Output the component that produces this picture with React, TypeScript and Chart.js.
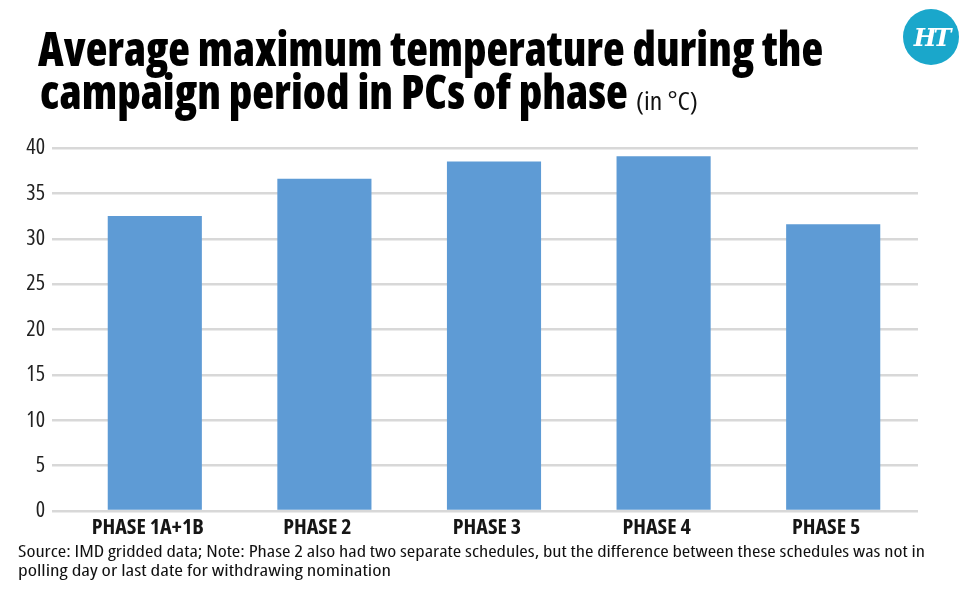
import React, { useEffect, useRef } from "react";
import { Chart, registerables } from "chart.js";

Chart.register(...registerables);

const categories = ["PHASE 1A+1B", "PHASE 2", "PHASE 3", "PHASE 4", "PHASE 5"];
const avgMaxTemp = [32.5, 36.6, 38.5, 39.1, 31.6];
const yTicks = [0, 5, 10, 15, 20, 25, 30, 35, 40];

const titleLine1 = "Average maximum temperature during the";
const titleLine2 = "campaign period in PCs of phase";
const titleUnit = "(in \u00B0C)";
const sourceLine1 =
  "Source: IMD gridded data; Note: Phase 2 also had two separate schedules, but the difference between these schedules was not in";
const sourceLine2 = "polling day or last date for withdrawing nomination";

const SANS = '"Open Sans", "Noto Sans", sans-serif';
const TICK_FONT = '"Open Sans", Roboto, sans-serif';

type TextPiece = {
  text: string;
  left: number;
  top: number;
  width: number;
  size: number;
  weight: number | string;
  color: string;
};

const pieces: TextPiece[] = [
  { text: titleLine1, left: 38, top: 25, width: 785, size: 47, weight: 800, color: "#000" },
  { text: titleLine2, left: 40, top: 68, width: 588, size: 47, weight: 800, color: "#000" },
  { text: titleUnit, left: 636, top: 87, width: 62, size: 26, weight: 400, color: "#111" },
  { text: sourceLine1, left: 18, top: 542, width: 907, size: 17, weight: 400, color: "#111" },
  { text: sourceLine2, left: 18, top: 561, width: 373, size: 17, weight: 400, color: "#111" },
];

export default function App() {
  const canvasRef = useRef<HTMLCanvasElement | null>(null);
  const textRefs = useRef<(HTMLSpanElement | null)[]>([]);

  useEffect(() => {
    document.body.style.margin = "0";
    const fit = () => {
      textRefs.current.forEach((el, i) => {
        if (!el) return;
        el.style.transform = "none";
        const w = el.offsetWidth;
        if (w > 0) el.style.transform = `scaleX(${pieces[i].width / w})`;
      });
    };
    fit();
    (document as any).fonts?.ready?.then(fit);

    const ctx = canvasRef.current!.getContext("2d")!;
    const chart = new Chart(ctx, {
      type: "bar",
      data: {
        labels: categories,
        datasets: [
          {
            data: avgMaxTemp,
            backgroundColor: "#5e9bd5",
            borderWidth: 0,
            barPercentage: 0.555,
            categoryPercentage: 1,
          },
        ],
      },
      options: {
        animation: false,
        responsive: false,
        maintainAspectRatio: false,
        layout: { padding: { left: 0, top: 148, right: 53, bottom: 47 } },
        plugins: { legend: { display: false }, tooltip: { enabled: false } },
        scales: {
          x: {
            afterFit: (s: any) => {
              s.height = 40;
            },
            grid: { display: false, drawTicks: false },
            border: { display: false },
            ticks: {
              color: "#161616",
              padding: 4,
              labelOffset: -7,
              font: { family: TICK_FONT, size: 22, weight: "condensed bold" as any },
            },
          },
          y: {
            min: 0,
            max: 40,
            afterFit: (s: any) => {
              s.width = 70;
            },
            afterBuildTicks: (s: any) => {
              s.ticks = yTicks.map((v) => ({ value: v }));
            },
            border: { display: false },
            grid: {
              color: "#d8d8d8",
              lineWidth: 2.5,
              drawTicks: true,
              tickLength: 18,
            },
            ticks: {
              color: "#222",
              padding: 7,
              font: { family: TICK_FONT, size: 22, weight: "condensed normal" as any },
            },
          },
        },
      },
    });
    return () => chart.destroy();
  }, []);

  return (
    <div
      style={{
        position: "fixed",
        left: 0,
        top: 0,
        width: 971,
        height: 598,
        background: "#fff",
        overflow: "hidden",
      }}
    >
      <canvas ref={canvasRef} width={971} height={598} style={{ position: "absolute", left: 0, top: 0 }} />
      {pieces.map((p, i) => (
        <span
          key={i}
          ref={(el) => {
            textRefs.current[i] = el;
          }}
          style={{
            position: "absolute",
            left: p.left,
            top: p.top,
            display: "inline-block",
            whiteSpace: "nowrap",
            fontFamily: SANS,
            fontSize: p.size,
            fontStretch: "75%",
            lineHeight: `${p.size}px`,
            fontWeight: p.weight as any,
            color: p.color,
            transformOrigin: "0 0",
          }}
        >
          {p.text}
        </span>
      ))}
      <div
        style={{
          position: "absolute",
          left: 903,
          top: 9,
          width: 56,
          height: 56,
          borderRadius: "50%",
          background: "#1aa7cb",
          color: "#fff",
          display: "flex",
          alignItems: "center",
          justifyContent: "center",
          fontFamily: '"DejaVu Serif", serif',
          fontWeight: "bold",
          fontStyle: "italic",
          fontSize: 24,
          letterSpacing: -3,
        }}
      >
        HT
      </div>
    </div>
  );
}
